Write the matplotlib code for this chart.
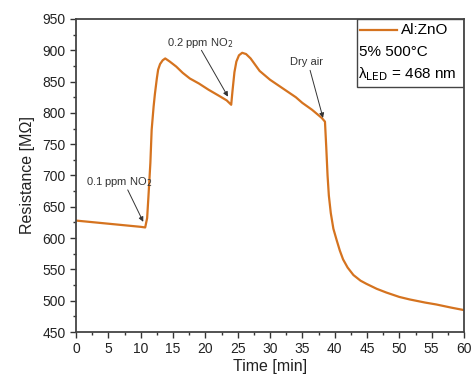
import matplotlib
matplotlib.use("Agg")
import matplotlib.pyplot as plt
from matplotlib.ticker import MultipleLocator
from matplotlib.patches import Rectangle
from matplotlib.lines import Line2D

plt.rcParams['font.family'] = ['Liberation Sans', 'DejaVu Sans']

time_min = [0.0, 2.0, 4.0, 6.0, 8.0, 10.0, 10.7, 11.0, 11.2, 11.5, 11.7, 12.0, 12.2, 12.5, 12.7,
            13.0, 13.4, 13.8, 14.5, 15.5, 16.5, 17.6, 19.0, 20.5, 22.0, 23.3, 24.0,
            24.2, 24.5, 24.8, 25.2, 25.7, 26.3, 27.0, 28.4, 30.0, 32.0, 34.0, 35.0, 36.5, 38.0, 38.5,
            38.7, 38.9, 39.1, 39.4, 39.8, 40.3, 40.8, 41.3, 42.0, 42.9, 44.0, 44.9, 46.5, 48.0,
            50.0, 51.6, 54.0, 55.7, 58.0, 60.0]
resistance = [628, 626, 624, 622, 620, 618, 617, 632, 666, 720, 773, 810, 830, 855, 869,
              878, 884, 887, 882, 874, 864, 855, 847, 837, 828, 820, 813,
              835, 865, 882, 892, 896, 894, 887, 867, 853, 839, 825, 816, 805, 792, 786,
              745, 700, 668, 640, 615, 597, 580, 566, 553, 541, 532, 527, 519, 513,
              506, 502, 497, 494, 489, 485]

line_color = '#d5731f'

fig = plt.figure(figsize=(4.72, 3.78), dpi=100)
ax = fig.add_axes([76/472, 1-332/378, (464-76)/472, (332-19)/378])
ax.plot(time_min, resistance, color=line_color, lw=1.6)

ax.set_xlim(0, 60)
ax.set_ylim(450, 950)
ax.xaxis.set_major_locator(MultipleLocator(5))
ax.xaxis.set_minor_locator(MultipleLocator(2.5))
ax.yaxis.set_major_locator(MultipleLocator(50))
ax.yaxis.set_minor_locator(MultipleLocator(25))
ax.tick_params(which='major', direction='out', length=4, width=1, labelsize=10, colors='#333333')
ax.tick_params(which='minor', direction='out', length=2.5, width=1, colors='#333333')
ax.tick_params(labelcolor='#222222')
for s in ax.spines.values():
    s.set_linewidth(1.3)
    s.set_color('#444444')

ax.set_xlabel('Time [min]', fontsize=11.5, labelpad=2, color='#222222')
ax.set_ylabel('Resistance [MΩ]', fontsize=11.5, labelpad=5, color='#222222')

arrowprops = dict(arrowstyle='-|>', color='#333333', lw=0.7, mutation_scale=7, shrinkA=0, shrinkB=0)
ax.annotate('', xy=(10.4, 626), xytext=(8.0, 677), arrowprops=arrowprops)
ax.text(1.5, 690, '0.1 ppm NO$_2$', fontsize=8, va='center', ha='left', color='#333333')
ax.annotate('', xy=(23.5, 826), xytext=(19.4, 900), arrowprops=arrowprops)
ax.text(19.2, 912, '0.2 ppm NO$_2$', fontsize=8, va='center', ha='center', color='#333333')
ax.annotate('', xy=(38.2, 792), xytext=(36.2, 868), arrowprops=arrowprops)
ax.text(35.7, 882, 'Dry air', fontsize=8, va='center', ha='center', color='#333333')

# legend box
bx0 = (357-76)/388
by0 = (332-87)/313
ax.add_patch(Rectangle((bx0, by0), 1-bx0, 1-by0, transform=ax.transAxes,
                       fill=False, edgecolor='#444444', lw=1.0, zorder=5))
def fx(px):
    return (px-76)/388
def fy(py):
    return (332-py)/313
ax.add_line(Line2D([fx(360), fx(397)], [fy(30), fy(30)], transform=ax.transAxes,
                   color=line_color, lw=1.6))
ax.text(fx(401), fy(30), 'Al:ZnO', transform=ax.transAxes, fontsize=11, va='center', ha='left')
ax.text(fx(359), fy(52), '5% 500°C', transform=ax.transAxes, fontsize=11, va='center', ha='left')
ax.text(fx(358), fy(74), 'λ$_{\\mathrm{LED}}$ = 468 nm', transform=ax.transAxes, fontsize=11,
        va='center', ha='left')

fig.savefig('out.png', dpi=100)
